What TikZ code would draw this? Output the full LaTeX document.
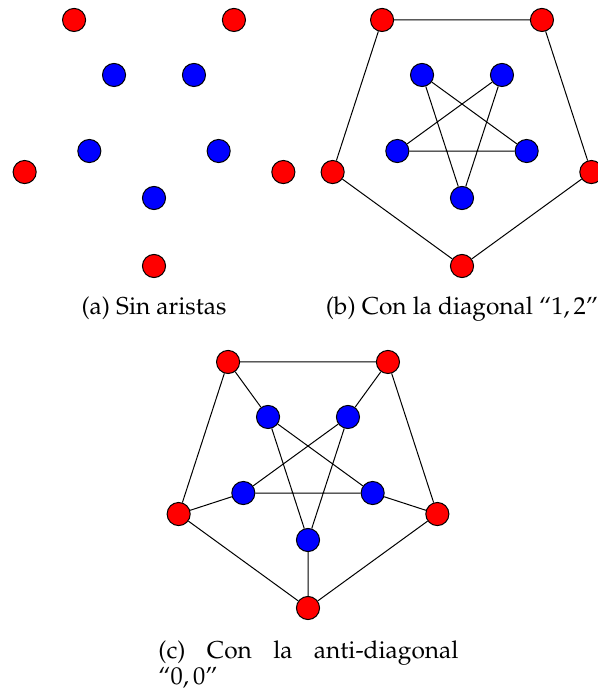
\documentclass[tikz,border=0pt]{standalone}
\usepackage[T1]{fontenc}
\usepackage{mathpazo}
\usetikzlibrary{calc}
\tikzset{
  rv/.style={circle,draw=black,line width=0.45pt,fill=red,minimum size=10.4pt,inner sep=0pt},
  bv/.style={circle,draw=black,line width=0.45pt,fill=blue,minimum size=10.4pt,inner sep=0pt},
  edgeline/.style={draw=black,line width=0.45pt},
  captxt/.style={inner sep=0pt,font=\fontsize{11}{11.8}\selectfont}
}
\begin{document}
\begin{tikzpicture}[x=0.45pt,y=-0.45pt]
\useasboundingbox (0,0) rectangle (598,693);
% (a)
\foreach \k in {0,...,4}{
  \node[rv] (ao\k) at ($(154,130)+({90+72*\k}:136)$) {};
  \node[bv] (ai\k) at ($(154,130)+({90+72*\k}:68)$) {};
}
% (b)
\foreach \k in {0,...,4}{
  \node[rv] (bo\k) at ($(462,130)+({90+72*\k}:136)$) {};
  \node[bv] (bi\k) at ($(462,130)+({90+72*\k}:68)$) {};
}
\draw[edgeline] (bo0) -- (bo1) (bo1) -- (bo2) (bo2) -- (bo3) (bo3) -- (bo4) (bo4) -- (bo0);
\draw[edgeline] (bi0) -- (bi2) (bi1) -- (bi3) (bi2) -- (bi4) (bi3) -- (bi0) (bi4) -- (bi1);
% (c)
\foreach \k in {0,...,4}{
  \node[rv] (co\k) at ($(308,472)+({90+72*\k}:136)$) {};
  \node[bv] (ci\k) at ($(308,472)+({90+72*\k}:68)$) {};
}
\draw[edgeline] (co0) -- (co1) (co1) -- (co2) (co2) -- (co3) (co3) -- (co4) (co4) -- (co0);
\draw[edgeline] (ci0) -- (ci2) (ci1) -- (ci3) (ci2) -- (ci4) (ci3) -- (ci0) (ci4) -- (ci1);
\draw[edgeline] (co0) -- (ci0) (co1) -- (ci1) (co2) -- (ci2) (co3) -- (ci3) (co4) -- (ci4);
% captions
\node[captxt,anchor=base] (capa) at (154,315) {(a) Sin aristas};
\node[captxt,anchor=base] (capb) at (462,315) {(b) Con la diagonal ``$1,2$''};
\node[captxt,anchor=base west,text width=135pt,align=justify] (capc) at (158,658)
  {(c) Con la anti-diagonal\linebreak ``$0,0$''};
\end{tikzpicture}
\end{document}
